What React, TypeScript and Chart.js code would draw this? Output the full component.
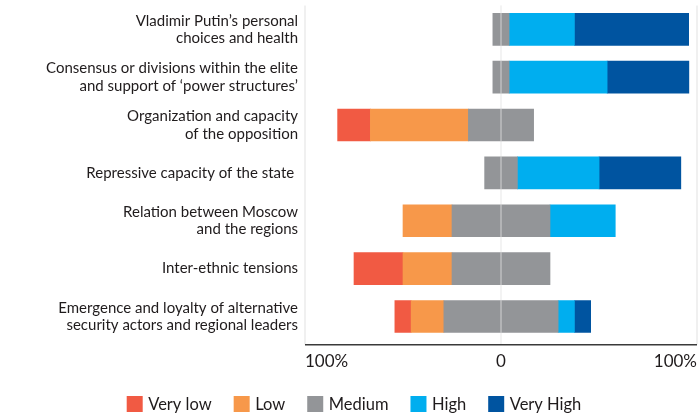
import React, { useEffect, useRef } from 'react';
import { Chart, registerables } from 'chart.js';

Chart.register(...registerables);

const categories: (string | string[])[] = [
  ['Vladimir Putin’s personal', 'choices and health'],
  ['Consensus or divisions within the elite', 'and support of ‘power structures’'],
  ['Organization and capacity', 'of the opposition'],
  'Repressive capacity of the state ',
  ['Relation between Moscow', 'and the regions'],
  'Inter-ethnic tensions',
  ['Emergence and loyalty of alternative', 'security actors and regional leaders'],
];

const veryLow = [0, 0, 16.7, 0, 0, 25, 8.3];
const low = [0, 0, 50, 0, 25, 25, 16.7];
const medium = [8.3, 8.3, 33.3, 16.7, 50, 50, 58.3];
const high = [33.3, 50, 0, 41.7, 33.3, 0, 8.3];
const veryHigh = [58.3, 41.7, 0, 41.7, 0, 0, 8.3];

const seriesNames = ['Very low', 'Low', 'Medium', 'High', 'Very High'];
const seriesColors = ['#f15a43', '#f7984a', '#939598', '#00aeef', '#0054a0'];
const xTicks = [-100, 0, 100];

const FONT = 'Lato';
const TEXT = '#1f1b1c';

const overlayPlugin = {
  id: 'overlay',
  beforeDatasetsDraw(chart: any) {
    const { ctx, chartArea, scales } = chart;
    const x = scales.x;
    ctx.save();
    ctx.strokeStyle = '#e6e6e6';
    ctx.lineWidth = 1.2;
    [xTicks[0], xTicks[xTicks.length - 1]].forEach((v) => {
      const px = x.getPixelForValue(v);
      ctx.beginPath();
      ctx.moveTo(px, chartArea.top);
      ctx.lineTo(px, chartArea.bottom + 4);
      ctx.stroke();
    });
    ctx.restore();
  },
  afterDatasetsDraw(chart: any) {
    const { ctx, chartArea, scales } = chart;
    const x = scales.x;
    ctx.save();
    const zx = x.getPixelForValue(0);
    ctx.strokeStyle = 'rgba(225,225,225,0.55)';
    ctx.lineWidth = 1.5;
    ctx.beginPath();
    ctx.moveTo(zx, chartArea.top);
    ctx.lineTo(zx, chartArea.bottom + 4);
    ctx.stroke();
    ctx.strokeStyle = '#3a3a3a';
    ctx.lineWidth = 1.5;
    ctx.beginPath();
    ctx.moveTo(chartArea.left, chartArea.bottom + 4.3);
    ctx.lineTo(chartArea.right, chartArea.bottom + 4.3);
    ctx.stroke();
    ctx.restore();
  },
  afterDraw(chart: any) {
    const { ctx } = chart;
    ctx.save();
    ctx.font = `16.5px ${FONT}`;
    const box = 16;
    const gap = 5.5;
    const spacing = 22;
    const widths = seriesNames.map((n) => box + gap + ctx.measureText(n).width);
    const total = widths.reduce((a, b) => a + b, 0) + spacing * (seriesNames.length - 1);
    let cx = 354 - total / 2;
    const cy = 404;
    seriesNames.forEach((n, i) => {
      ctx.fillStyle = seriesColors[i];
      ctx.fillRect(cx, cy - box / 2, box, box);
      ctx.fillStyle = TEXT;
      ctx.textBaseline = 'middle';
      ctx.textAlign = 'left';
      ctx.fillText(n, cx + box + gap, cy + 1);
      cx += widths[i] + spacing;
    });
    ctx.restore();
  },
};

const neg = (arr: number[], f = 1) => arr.map((v) => (v === 0 ? null : -v * f));
const pos = (arr: number[], f = 1) => arr.map((v) => (v === 0 ? null : v * f));

export default function App() {
  const ref = useRef<HTMLCanvasElement | null>(null);

  useEffect(() => {
    document.body.style.margin = '0';
    if (!ref.current) return;
    const ds = (label: string, data: (number | null)[], color: string) => ({
      label,
      data,
      backgroundColor: color,
      borderWidth: 0,
      stack: 's',
      barThickness: 32,
    });
    const chart = new Chart(ref.current, {
      type: 'bar',
      data: {
        labels: categories,
        datasets: [
          ds(seriesNames[2], neg(medium, 0.5), seriesColors[2]),
          ds(seriesNames[2], pos(medium, 0.5), seriesColors[2]),
          ds(seriesNames[1], neg(low), seriesColors[1]),
          ds(seriesNames[0], neg(veryLow), seriesColors[0]),
          ds(seriesNames[3], pos(high), seriesColors[3]),
          ds(seriesNames[4], pos(veryHigh), seriesColors[4]),
        ],
      },
      options: {
        indexAxis: 'y',
        animation: false,
        responsive: false,
        maintainAspectRatio: false,
        layout: { padding: { top: 5.4, right: 3, left: 0, bottom: 0 } },
        plugins: {
          legend: { display: false },
          tooltip: { enabled: false },
        },
        scales: {
          x: {
            type: 'linear',
            stacked: true,
            min: -100,
            max: 100,
            afterBuildTicks: (scale: any) => {
              scale.ticks = xTicks.map((v) => ({ value: v }));
            },
            afterFit: (scale: any) => {
              scale.height = 77.6;
              scale.paddingLeft = 0;
              scale.paddingRight = 0;
            },
            grid: { display: false, drawTicks: false },
            border: { display: false },
            ticks: {
              align: 'inner',
              maxRotation: 0,
              autoSkip: false,
              padding: 11,
              color: TEXT,
              font: { family: FONT, size: 17 },
              callback: (v: any) => (Number(v) === 0 ? '0' : Math.abs(Number(v)) + '%'),
            },
          },
          y: {
            type: 'category',
            stacked: true,
            afterFit: (scale: any) => {
              scale.width = 305;
              scale.paddingTop = 0;
              scale.paddingBottom = 0;
            },
            grid: { display: false, drawTicks: false },
            border: { display: false },
            ticks: {
              padding: 7,
              autoSkip: false,
              color: TEXT,
              font: { family: FONT, size: 15, lineHeight: 1.15 },
            },
          },
        },
      } as any,
      plugins: [overlayPlugin],
    });
    return () => chart.destroy();
  }, []);

  return (
    <div style={{ width: 700, height: 418 }}>
      <canvas ref={ref} width={700} height={418} style={{ display: 'block', width: 700, height: 418 }} />
    </div>
  );
}
